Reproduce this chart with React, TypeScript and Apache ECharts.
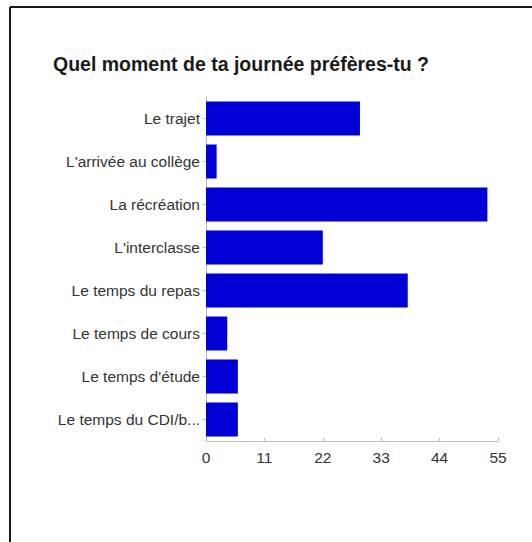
import React, { useEffect, useRef } from "react";
import * as echarts from "echarts";

const titleText = "Quel moment de ta journée préfères-tu ?";
const categories = [
  "Le trajet",
  "L'arrivée au collège",
  "La récréation",
  "L'interclasse",
  "Le temps du repas",
  "Le temps de cours",
  "Le temps d'étude",
  "Le temps du CDI/b...",
];
const values = [29, 2, 53, 22, 38, 4, 6, 6];
const xTicks = [0, 11, 22, 33, 44, 55];

export default function App() {
  const ref = useRef<HTMLDivElement>(null);
  useEffect(() => {
    if (!ref.current) return;
    const chart = echarts.init(ref.current, null, { renderer: "svg" });
    const font = "'Liberation Sans', Arial, sans-serif";
    chart.setOption({
      animation: false,
      backgroundColor: "#ffffff",
      title: {
        text: titleText,
        left: 48,
        top: 49,
        textStyle: { fontFamily: font, fontSize: 19.5, fontWeight: "bold", color: "#1a1a1a" },
      },
      grid: { left: 206, top: 97, width: 292, height: 344, containLabel: false },
      xAxis: {
        type: "value",
        min: xTicks[0],
        max: xTicks[xTicks.length - 1],
        interval: 11,
        splitLine: { show: false },
        axisLine: { show: true, lineStyle: { color: "#bbbbbb", width: 1 } },
        axisTick: { show: true, inside: true, length: 3, lineStyle: { color: "#bbbbbb" } },
        axisLabel: { fontFamily: font, fontSize: 15.5, color: "#333333", margin: 8 },
      },
      yAxis: {
        type: "category",
        inverse: true,
        data: categories,
        axisLine: { show: true, lineStyle: { color: "#bbbbbb", width: 1 } },
        axisTick: { show: true, alignWithLabel: true, length: 3, lineStyle: { color: "#bbbbbb" } },
        axisLabel: { fontFamily: font, fontSize: 15.5, color: "#333333", margin: 6 },
      },
      series: [
        {
          type: "bar",
          data: values,
          barCategoryGap: "21%",
          itemStyle: { color: "#0000d6" },
        },
      ],
      graphic: [
        { type: "line", shape: { x1: 10, y1: 7, x2: 532, y2: 7 }, style: { stroke: "#1a1a1a", lineWidth: 2 } },
        { type: "line", shape: { x1: 10, y1: 7, x2: 10, y2: 542 }, style: { stroke: "#1a1a1a", lineWidth: 2 } },
      ],
    });
    return () => chart.dispose();
  }, []);
  return (
    <div
      ref={ref}
      style={{ position: "fixed", left: 0, top: 0, width: 532, height: 542 }}
    />
  );
}
